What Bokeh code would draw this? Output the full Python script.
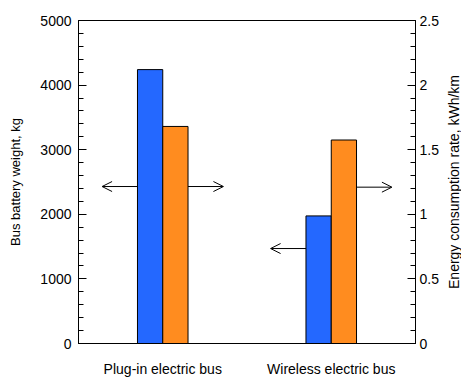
import math
from bokeh.plotting import figure
from bokeh.layouts import row
from bokeh.models import (ColumnDataSource, Range1d, FactorRange, LinearAxis,
                          FixedTicker, Arrow, OpenHead, Label)
from bokeh.transform import dodge
from bokeh.embed import file_html
from bokeh.resources import INLINE

categories = ["Plug-in electric bus", "Wireless electric bus"]
battery_weight_kg = [4240, 1975]
energy_rate_kwh_km = [1.68, 1.575]

FONT = "Liberation Sans"
BLUE = "#2468ff"
ORANGE = "#ff8c1f"

src = ColumnDataSource(dict(cat=categories, w=battery_weight_kg, e=energy_rate_kwh_km))

p = figure(width=444, height=379, x_range=FactorRange(*categories, range_padding=0),
           y_range=Range1d(0, 5000), output_backend="svg", toolbar_location=None,
           min_border_left=78, min_border_right=29, min_border_top=20, min_border_bottom=33)
p.extra_y_ranges = {"e": Range1d(0, 2.5)}

bw = 0.15
p.vbar(x=dodge("cat", -bw / 2, range=p.x_range), top="w", width=bw, source=src,
       fill_color=BLUE, line_color="black", line_width=1)
p.vbar(x=dodge("cat", bw / 2, range=p.x_range), top="e", width=bw, source=src,
       fill_color=ORANGE, line_color="black", line_width=1, y_range_name="e")

# arrows pointing to the axis each bar belongs to
L = 0.21
centers = [0.5, 1.5]
arrow_specs = [
    (centers[0] - bw, centers[0] - bw - L, 2430, 2430),
    (centers[0] + bw, centers[0] + bw + L, 2430, 2430),
    (centers[1] - bw, centers[1] - bw - L, 1470, 1470),
    (centers[1] + bw, centers[1] + bw + L, 2420, 2420),
]
for xs, xe, ys, ye in arrow_specs:
    p.add_layout(Arrow(x_start=xs, x_end=xe, y_start=ys, y_end=ye,
                       end=OpenHead(size=10, line_width=1, line_color="black"),
                       line_width=1, line_color="black"))

p.xgrid.visible = False
p.ygrid.visible = False
p.outline_line_color = "black"
p.outline_line_width = 1

xa = p.xaxis[0]
xa.major_tick_line_color = None
xa.minor_tick_line_color = None
xa.major_tick_in = 0
xa.major_tick_out = 0
xa.minor_tick_in = 0
xa.minor_tick_out = 0
xa.major_label_standoff = 17
xa.major_label_text_font = FONT
xa.major_label_text_font_size = "14px"
xa.major_label_text_color = "black"
xa.axis_line_color = "black"

ya = p.yaxis[0]
ya.ticker = FixedTicker(ticks=[0, 1000, 2000, 3000, 4000, 5000],
                        minor_ticks=list(range(0, 5001, 200)))
ya.axis_label = "Bus battery weight, kg"
ya.major_tick_in = 8
ya.major_tick_out = 0
ya.minor_tick_in = 5
ya.minor_tick_out = 0
ya.major_label_standoff = 7
ya.axis_label_standoff = 14
ya.major_label_text_font = FONT
ya.major_label_text_font_size = "14px"
ya.major_label_text_color = "black"
ya.axis_label_text_font = FONT
ya.axis_label_text_font_size = "13px"
ya.axis_label_text_font_style = "normal"
ya.axis_label_text_color = "black"
ya.axis_line_color = "black"
ya.major_tick_line_color = "black"
ya.minor_tick_line_color = "black"

ra = LinearAxis(y_range_name="e")
ra.ticker = FixedTicker(ticks=[0, 0.5, 1, 1.5, 2, 2.5],
                        minor_ticks=[i / 10 for i in range(0, 26)])
ra.major_tick_in = 8
ra.major_tick_out = 0
ra.minor_tick_in = 5
ra.minor_tick_out = 0
ra.major_label_standoff = 4
ra.major_label_text_font = FONT
ra.major_label_text_font_size = "14px"
ra.major_label_text_color = "black"
ra.axis_line_color = "black"
ra.major_tick_line_color = "black"
ra.minor_tick_line_color = "black"
p.add_layout(ra, "right")

# narrow strip holding the right-hand axis title (reads bottom to top)
p2 = figure(width=17, height=379, x_range=Range1d(0, 17), y_range=Range1d(0, 1),
            output_backend="svg", toolbar_location=None,
            x_axis_type=None, y_axis_type=None,
            min_border_left=0, min_border_right=0, min_border_top=20, min_border_bottom=33)
p2.outline_line_color = None
p2.xgrid.visible = False
p2.ygrid.visible = False
p2.add_layout(Label(x=9, y=0.5, angle=math.pi / 2,
                    text="Energy consumption rate, kWh/km", text_font=FONT,
                    text_font_size="14px", text_color="black",
                    text_align="center", text_baseline="middle"))

layout = row(p, p2, spacing=0)
open("out.html", "w").write(file_html(layout, INLINE))
